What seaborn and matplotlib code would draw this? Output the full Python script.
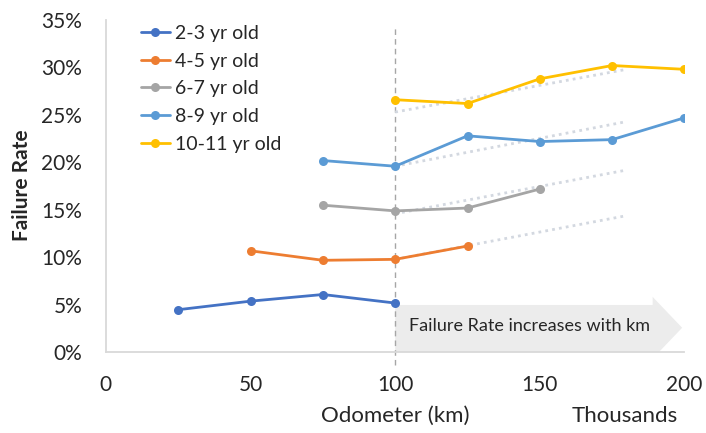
import matplotlib
matplotlib.use("Agg")
import matplotlib.pyplot as plt
from matplotlib.lines import Line2D
from matplotlib.patches import Polygon
import seaborn as sns
import pandas as pd

# Failure rate (%) by odometer reading (thousands of km) for each age group
groups = ["2-3 yr old", "4-5 yr old", "6-7 yr old", "8-9 yr old", "10-11 yr old"]
km_2_3 = [25, 50, 75, 100]
rate_2_3 = [4.5, 5.4, 6.1, 5.2]
km_4_5 = [50, 75, 100, 125]
rate_4_5 = [10.7, 9.7, 9.8, 11.2]
km_6_7 = [75, 100, 125, 150]
rate_6_7 = [15.5, 14.9, 15.2, 17.2]
km_8_9 = [75, 100, 125, 150, 175, 200]
rate_8_9 = [20.2, 19.6, 22.8, 22.2, 22.4, 24.7]
km_10_11 = [100, 125, 150, 175, 200]
rate_10_11 = [26.6, 26.2, 28.8, 30.2, 29.8]

# Linear trend segments (start/end km and rate) for the older groups
trend_km = [100, 180]
trend_4_5 = [9.8, 14.4]
trend_6_7 = [14.6, 19.2]
trend_8_9 = [19.6, 24.3]
trend_10_11 = [25.3, 29.8]

colors = ["#4472C4", "#ED7D31", "#A5A5A5", "#5B9BD5", "#FFC000"]
text_color = "#262626"

sns.set_style("white")
plt.rcParams["font.family"] = ["Lato", "DejaVu Sans"]

series = [(km_2_3, rate_2_3), (km_4_5, rate_4_5), (km_6_7, rate_6_7),
          (km_8_9, rate_8_9), (km_10_11, rate_10_11)]
frames = []
for name, (k, r) in zip(groups, series):
    frames.append(pd.DataFrame({"km": k, "rate": r, "group": name}))
df = pd.concat(frames, ignore_index=True)

fig = plt.figure(figsize=(7.06, 4.33), dpi=100)
ax = fig.add_axes([0.150, 0.186, 0.8195, 0.768])

# Arrow banner along the bottom
mid = 2.6
poly = Polygon([(100, 0.0), (189, 0.0), (189, mid - 3.25), (199.2, mid),
                (189, mid + 3.25), (189, 5.0), (100, 5.0)],
               closed=True, facecolor="#ececec", edgecolor="none", zorder=0)
ax.add_patch(poly)
ax.text(104.7, 2.75, "Failure Rate increases with km", fontsize=13,
        color=text_color, va="center", ha="left", zorder=1)

# Trend lines
for tr in [trend_4_5, trend_6_7, trend_8_9, trend_10_11]:
    sns.lineplot(x=trend_km, y=tr, ax=ax, color="#d3d8e0", linewidth=2,
                 linestyle=(0, (1, 1.5)), zorder=2, legend=False)

sns.lineplot(data=df, x="km", y="rate", hue="group", hue_order=groups,
             palette=colors, marker="o", markersize=6.5, markeredgewidth=0,
             linewidth=2, ax=ax, legend=False, zorder=3, sort=False)

# Vertical reference at 100k km
ax.plot([100, 100], [-1.3, 34.2], color="#a6a6a6", linewidth=1,
        linestyle=(0, (4, 3)), clip_on=False, zorder=1)

ax.set_xlim(0, 200)
ax.set_ylim(0, 35)
ax.set_xticks([0, 50, 100, 150, 200])
ax.set_yticks(range(0, 36, 5))
ax.set_yticklabels([f"{v}%" for v in range(0, 36, 5)])
ax.tick_params(axis="x", length=0, pad=16, labelsize=15, labelcolor=text_color)
ax.tick_params(axis="y", length=0, pad=17, labelsize=15, labelcolor=text_color)

for s in ["top", "right"]:
    ax.spines[s].set_visible(False)
for s in ["left", "bottom"]:
    ax.spines[s].set_color("#d9d9d9")
    ax.spines[s].set_linewidth(1.3)

ax.set_xlabel("")
ax.set_ylabel("")
fig.text(22.5 / 706, 1 - 185 / 433, "Failure Rate", fontsize=15,
         fontweight="bold", color=text_color, rotation=90,
         ha="center", va="center")
fig.text(395 / 706, 1 - 416 / 433, "Odometer (km)", fontsize=16,
         color=text_color, ha="center", va="center")
fig.text(625 / 706, 1 - 416 / 433, "Thousands", fontsize=16,
         color=text_color, ha="center", va="center")

handles = [Line2D([0], [0], color=c, marker="o", markersize=6.5,
                  markeredgewidth=0, linewidth=2) for c in colors]
ax.legend(handles, groups, loc="upper left", bbox_to_anchor=(0.06, 0.985),
          frameon=False, fontsize=14, handlelength=1.5, labelspacing=0.55,
          handletextpad=0.25, borderpad=0, borderaxespad=0,
          labelcolor=text_color)

fig.savefig("out.png", dpi=100)
